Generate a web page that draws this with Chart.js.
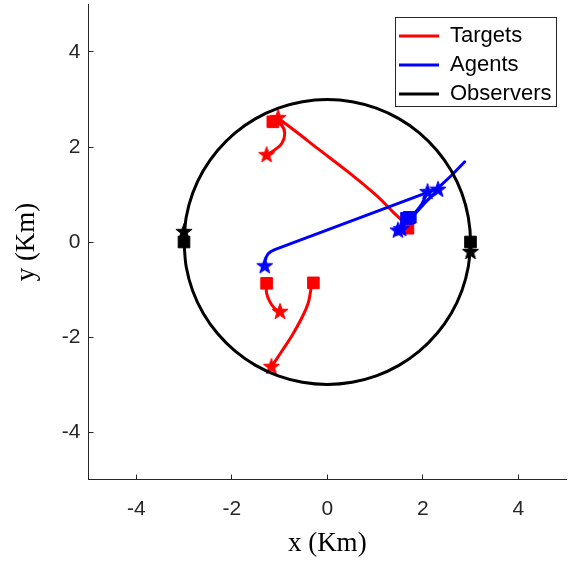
<!DOCTYPE html>
<html><head><meta charset="utf-8">
<script src="https://cdn.jsdelivr.net/npm/chart.js@4.4.1/dist/chart.umd.min.js"></script>
<style>html,body{margin:0;padding:0;background:#fff;}canvas{display:block;}</style>
</head><body>
<canvas id="c" width="571" height="561"></canvas>
<script>
// ---- data ----
const xTicks = [-4, -2, 0, 2, 4];
const yTicks = [-4, -2, 0, 2, 4];

const observerCircle = [
  [-3,0],[-2.954,-0.521],[-2.819,-1.026],[-2.598,-1.5],[-2.298,-1.928],[-1.928,-2.298],
  [-1.5,-2.598],[-1.026,-2.819],[-0.521,-2.954],[0,-3],[0.521,-2.954],[1.026,-2.819],
  [1.5,-2.598],[1.928,-2.298],[2.298,-1.928],[2.598,-1.5],[2.819,-1.026],[2.954,-0.521],
  [3,0],[2.954,0.521],[2.819,1.026],[2.598,1.5],[2.298,1.928],[1.928,2.298],
  [1.5,2.598],[1.026,2.819],[0.521,2.954],[0,3],[-0.521,2.954],[-1.026,2.819],
  [-1.5,2.598],[-1.928,2.298],[-2.298,1.928],[-2.598,1.5],[-2.819,1.026],[-2.954,0.521],[-3,0]
];
const observerStarts = [[-3, 0], [3, 0]];
const observerEnds = [[-3, 0.21], [3, -0.21]];

const targetPath1 = [[1.66,0.31],[1.59,0.42],[1.38,0.63],[1.04,0.97],[0.47,1.45],[-0.19,1.96],[-0.61,2.29],[-1.03,2.61]];
const targetPath2 = [[-1.14,2.53],[-0.96,2.46],[-0.89,2.29],[-0.95,2.08],[-1.10,1.94],[-1.27,1.83]];
const targetPath3 = [[-1.27,-0.87],[-1.27,-1.08],[-1.20,-1.26],[-1.10,-1.40],[-0.99,-1.47]];
const targetPath4 = [[-0.29,-0.86],[-0.33,-0.94],[-0.40,-1.29],[-0.54,-1.61],[-0.75,-1.99],[-0.96,-2.31],[-1.17,-2.63]];
const targetStarts = [[1.69,0.29],[-1.14,2.53],[-1.27,-0.87],[-0.29,-0.86]];
const targetEnds = [[-1.03,2.61],[-1.27,1.83],[-0.99,-1.47],[-1.17,-2.63]];

const agentPath1 = [[2.88,1.69],[2.60,1.40],[2.30,1.12],[2.20,1.08],[-1.10,-0.16],[-1.18,-0.20],[-1.24,-0.25],[-1.28,-0.32],[-1.30,-0.40],[-1.31,-0.51]];
const agentPath2 = [[1.66,0.50],[1.56,0.36],[1.48,0.24]];
const agentPath3 = [[1.72,0.52],[1.62,0.38],[1.55,0.27]];
const agentPath4 = [[1.70,0.50],[1.84,0.62],[1.98,0.80],[2.10,1.05]];
const agentPath5 = [[1.74,0.52],[1.88,0.64],[2.08,0.86],[2.32,1.10]];
const agentStarts = [[1.66,0.50],[1.72,0.52],[1.70,0.50],[1.74,0.52]];
const agentEnds = [[-1.31,-0.51],[1.48,0.24],[1.55,0.27],[2.10,1.05],[2.32,1.10]];

// ---- helpers ----
const pts = a => a.map(([x, y]) => ({x, y}));
function makeStar(color, R) {
  const size = Math.ceil(R * 2) + 3;
  const c = document.createElement('canvas');
  c.width = size; c.height = size;
  const g = c.getContext('2d');
  const cx = size / 2, cy = size / 2;
  g.beginPath();
  for (let i = 0; i < 10; i++) {
    const r = i % 2 ? R * 0.4 : R;
    const a = -Math.PI / 2 + i * Math.PI / 5;
    g.lineTo(cx + r * Math.cos(a), cy + r * Math.sin(a));
  }
  g.closePath();
  g.fillStyle = color; g.fill();
  g.strokeStyle = color; g.lineWidth = 1; g.stroke();
  return c;
}
const RED = '#ff0000', BLUE = '#0000ff', BLACK = '#000000';
const starRed = makeStar(RED, 8.5), starBlue = makeStar(BLUE, 8.5), starBlack = makeStar(BLACK, 8.5);

function markers(data, color, style) {
  return { label: '', data: pts(data), showLine: false, pointStyle: style,
    pointRadius: 8.2, pointHoverRadius: 8.2, backgroundColor: color, borderColor: color, borderWidth: 1 };
}
function line(data, color, label, tension) {
  return { label: label, data: pts(data), showLine: true, pointRadius: 0, pointHoverRadius: 0,
    borderColor: color, backgroundColor: color, borderWidth: 3, tension: tension,
    borderJoinStyle: 'round', borderCapStyle: 'round', fill: false };
}

const datasets = [
  markers(observerEnds, BLACK, starBlack),
  markers(observerStarts, BLACK, 'rect'),
  line(observerCircle, BLACK, 'Observers', 0.33),
  markers(agentEnds, BLUE, starBlue),
  markers(agentStarts, BLUE, 'rect'),
  line(agentPath1, BLUE, 'Agents', 0),
  line(agentPath2, BLUE, '', 0.3),
  line(agentPath3, BLUE, '', 0.3),
  line(agentPath4, BLUE, '', 0.3),
  line(agentPath5, BLUE, '', 0.3),
  markers(targetEnds, RED, starRed),
  markers(targetStarts, RED, 'rect'),
  line(targetPath1, RED, 'Targets', 0.35),
  line(targetPath2, RED, '', 0.4),
  line(targetPath3, RED, '', 0.4),
  line(targetPath4, RED, '', 0.4)
];

const AXIS = '#262626';
const legendPlacer = {
  id: 'legendPlacer',
  afterLayout(chart) {
    const l = chart.legend;
    if (!l) return;
    l.left = 392; l.top = 18; l.right = 560; l.bottom = 112;
    l.width = l.right - l.left; l.height = l.bottom - l.top;
  },
  afterDraw(chart) {
    const ctx = chart.ctx;
    ctx.save();
    ctx.strokeStyle = AXIS; ctx.lineWidth = 1;
    ctx.strokeRect(395.5, 17.5, 161, 89);
    ctx.restore();
  }
};

function axis(ticksArr, isX) {
  return {
    type: 'linear', min: -5, max: 5,
    afterBuildTicks: s => { s.ticks = ticksArr.map(v => ({value: v})); },
    afterFit: s => {
      if (isX) s.height = 81.5; else s.width = 88.5;
      s.paddingTop = 0; s.paddingBottom = 0; s.paddingLeft = 0; s.paddingRight = 0;
    },
    grid: { drawOnChartArea: false, drawTicks: true, tickLength: -5, color: AXIS, lineWidth: 1 },
    border: { display: true, color: AXIS, width: 1 },
    ticks: { font: { family: 'Liberation Sans', size: 21 }, color: AXIS, padding: isX ? 22 : 13,
      maxRotation: 0, autoSkip: false },
    title: { display: true, text: isX ? 'x (Km)' : 'y (Km)', color: '#000',
      font: { family: 'Liberation Serif', size: 27 },
      padding: isX ? { top: 0, bottom: 1 } : { top: 11, bottom: 0 } }
  };
}

new Chart(document.getElementById('c'), {
  type: 'scatter',
  data: { datasets },
  options: {
    responsive: false, animation: false, devicePixelRatio: 1,
    layout: { autoPadding: false, padding: { top: 4.5, right: 5, left: 0, bottom: 0 } },
    scales: { x: axis(xTicks, true), y: axis(yTicks, false) },
    plugins: {
      tooltip: { enabled: false },
      legend: {
        display: true, position: 'chartArea', align: 'start', fullSize: false, reverse: true,
        labels: {
          filter: item => item.text !== '',
          usePointStyle: true, pointStyle: 'line', pointStyleWidth: 40, boxWidth: 40,
          font: { family: 'Liberation Sans', size: 22 }, color: '#000', padding: 7
        }
      }
    }
  },
  plugins: [legendPlacer]
});
</script>
</body></html>
